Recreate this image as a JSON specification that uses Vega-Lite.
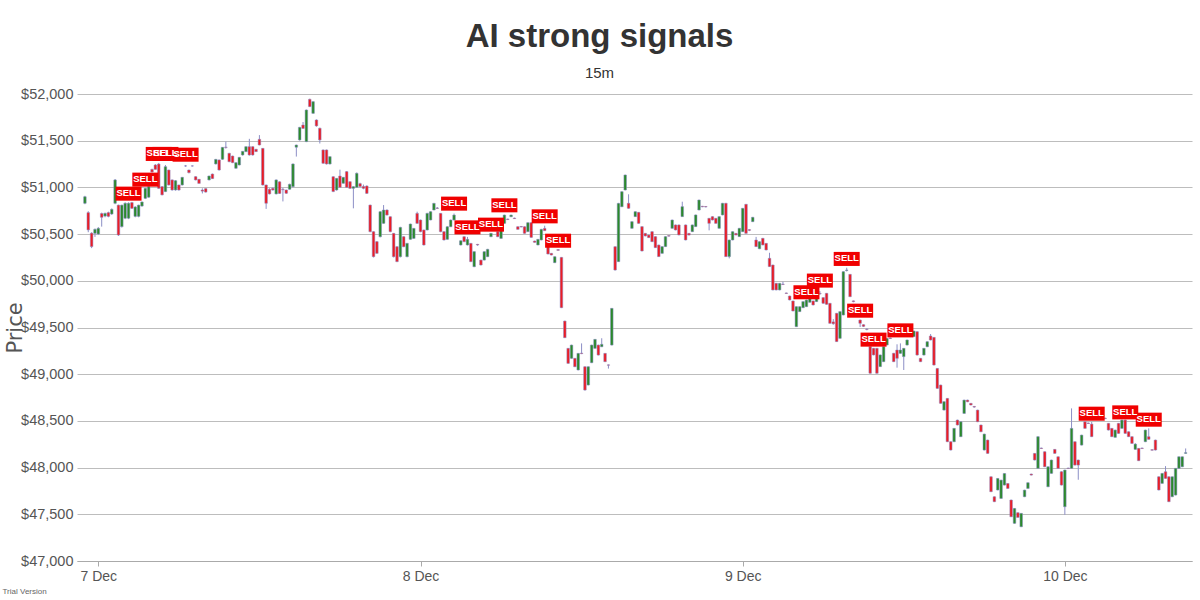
{
  "$schema": "https://vega.github.io/schema/vega-lite/v6.json",
  "width": 1115,
  "height": 467,
  "autosize": "none",
  "padding": {"left": 77, "top": 94, "right": 8, "bottom": 39},
  "background": "white",
  "config": {"view": {"stroke": null}},
  "title": {
    "text": "AI strong signals",
    "subtitle": "15m",
    "font": "Liberation Sans, sans-serif",
    "subtitleFont": "Liberation Sans, sans-serif",
    "fontSize": 33,
    "fontWeight": "bold",
    "color": "#333333",
    "subtitleFontSize": 15,
    "subtitleColor": "#333333",
    "subtitlePadding": 12,
    "offset": 5,
    "anchor": "middle",
    "dx": -35
  },
  "datasets": {
    "candles": [
      {"t":"2021-12-06T23:00Z","o":50830,"h":50910,"l":50820,"c":50900},
      {"t":"2021-12-06T23:15Z","o":50730,"h":50745,"l":50520,"c":50545},
      {"t":"2021-12-06T23:30Z","o":50510,"h":50520,"l":50350,"c":50366},
      {"t":"2021-12-06T23:45Z","o":50508,"h":50560,"l":50470,"c":50551},
      {"t":"2021-12-07T00:00Z","o":50501,"h":50575,"l":50490,"c":50562},
      {"t":"2021-12-07T00:15Z","o":50720,"h":50730,"l":50580,"c":50680},
      {"t":"2021-12-07T00:30Z","o":50693,"h":50730,"l":50680,"c":50722},
      {"t":"2021-12-07T00:45Z","o":50730,"h":50740,"l":50680,"c":50690},
      {"t":"2021-12-07T01:00Z","o":50715,"h":50775,"l":50705,"c":50765},
      {"t":"2021-12-07T01:15Z","o":50830,"h":51090,"l":50820,"c":51080},
      {"t":"2021-12-07T01:30Z","o":50810,"h":50815,"l":50480,"c":50490},
      {"t":"2021-12-07T01:45Z","o":50580,"h":50815,"l":50570,"c":50810},
      {"t":"2021-12-07T02:00Z","o":50670,"h":50840,"l":50660,"c":50830},
      {"t":"2021-12-07T02:15Z","o":50670,"h":50840,"l":50660,"c":50830},
      {"t":"2021-12-07T02:30Z","o":50837,"h":50845,"l":50770,"c":50776},
      {"t":"2021-12-07T02:45Z","o":50690,"h":50800,"l":50680,"c":50790},
      {"t":"2021-12-07T03:00Z","o":50690,"h":50815,"l":50680,"c":50810},
      {"t":"2021-12-07T03:15Z","o":50800,"h":50850,"l":50795,"c":50844},
      {"t":"2021-12-07T03:30Z","o":50883,"h":50995,"l":50875,"c":50990},
      {"t":"2021-12-07T03:45Z","o":50895,"h":51015,"l":50890,"c":51008},
      {"t":"2021-12-07T04:00Z","o":51193,"h":51200,"l":51160,"c":51165},
      {"t":"2021-12-07T04:15Z","o":51240,"h":51250,"l":51190,"c":51193},
      {"t":"2021-12-07T04:30Z","o":51250,"h":51262,"l":50985,"c":50990},
      {"t":"2021-12-07T04:45Z","o":51008,"h":51015,"l":50915,"c":50920},
      {"t":"2021-12-07T05:00Z","o":50955,"h":51240,"l":50950,"c":51222},
      {"t":"2021-12-07T05:15Z","o":51186,"h":51190,"l":51020,"c":51026},
      {"t":"2021-12-07T05:30Z","o":51080,"h":51085,"l":50965,"c":50972},
      {"t":"2021-12-07T05:45Z","o":50972,"h":51078,"l":50965,"c":51072},
      {"t":"2021-12-07T06:00Z","o":51026,"h":51030,"l":50965,"c":50972},
      {"t":"2021-12-07T06:15Z","o":51026,"h":51112,"l":51020,"c":51108},
      {"t":"2021-12-07T06:30Z","o":51230,"h":51240,"l":51220,"c":51229},
      {"t":"2021-12-07T06:45Z","o":51186,"h":51190,"l":51150,"c":51158},
      {"t":"2021-12-07T07:00Z","o":51230,"h":51236,"l":51222,"c":51229},
      {"t":"2021-12-07T07:15Z","o":51115,"h":51120,"l":51075,"c":51080},
      {"t":"2021-12-07T07:30Z","o":51087,"h":51090,"l":51040,"c":51043},
      {"t":"2021-12-07T07:45Z","o":50972,"h":50990,"l":50935,"c":50960},
      {"t":"2021-12-07T08:00Z","o":50987,"h":50990,"l":50945,"c":50950},
      {"t":"2021-12-07T08:15Z","o":51080,"h":51126,"l":51075,"c":51122},
      {"t":"2021-12-07T08:30Z","o":51143,"h":51148,"l":51090,"c":51094},
      {"t":"2021-12-07T08:45Z","o":51251,"h":51305,"l":51245,"c":51300},
      {"t":"2021-12-07T09:00Z","o":51294,"h":51298,"l":51180,"c":51186},
      {"t":"2021-12-07T09:15Z","o":51301,"h":51432,"l":51295,"c":51429},
      {"t":"2021-12-07T09:30Z","o":51432,"h":51490,"l":51415,"c":51428},
      {"t":"2021-12-07T09:45Z","o":51365,"h":51370,"l":51270,"c":51275},
      {"t":"2021-12-07T10:00Z","o":51336,"h":51340,"l":51260,"c":51265},
      {"t":"2021-12-07T10:15Z","o":51205,"h":51268,"l":51200,"c":51265},
      {"t":"2021-12-07T10:30Z","o":51240,"h":51326,"l":51235,"c":51322},
      {"t":"2021-12-07T10:45Z","o":51347,"h":51390,"l":51340,"c":51386},
      {"t":"2021-12-07T11:00Z","o":51383,"h":51440,"l":51378,"c":51436},
      {"t":"2021-12-07T11:15Z","o":51436,"h":51520,"l":51340,"c":51347},
      {"t":"2021-12-07T11:30Z","o":51436,"h":51440,"l":51340,"c":51347},
      {"t":"2021-12-07T11:45Z","o":51408,"h":51412,"l":51380,"c":51383},
      {"t":"2021-12-07T12:00Z","o":51515,"h":51560,"l":51450,"c":51454},
      {"t":"2021-12-07T12:15Z","o":51418,"h":51422,"l":51020,"c":51026},
      {"t":"2021-12-07T12:30Z","o":51026,"h":51030,"l":50770,"c":50830},
      {"t":"2021-12-07T12:45Z","o":50980,"h":50990,"l":50925,"c":50930},
      {"t":"2021-12-07T13:00Z","o":50990,"h":51000,"l":50965,"c":50972},
      {"t":"2021-12-07T13:15Z","o":50930,"h":51085,"l":50925,"c":51080},
      {"t":"2021-12-07T13:30Z","o":51060,"h":51065,"l":50930,"c":50935},
      {"t":"2021-12-07T13:45Z","o":50980,"h":50995,"l":50850,"c":50975},
      {"t":"2021-12-07T14:00Z","o":50972,"h":50976,"l":50930,"c":50937},
      {"t":"2021-12-07T14:15Z","o":50980,"h":51040,"l":50975,"c":51033},
      {"t":"2021-12-07T14:30Z","o":51008,"h":51256,"l":51000,"c":51251},
      {"t":"2021-12-07T14:45Z","o":51430,"h":51458,"l":51330,"c":51454},
      {"t":"2021-12-07T15:00Z","o":51508,"h":51648,"l":51500,"c":51643},
      {"t":"2021-12-07T15:15Z","o":51668,"h":51700,"l":51625,"c":51632},
      {"t":"2021-12-07T15:30Z","o":51490,"h":51834,"l":51485,"c":51829},
      {"t":"2021-12-07T15:45Z","o":51943,"h":51950,"l":51860,"c":51865},
      {"t":"2021-12-07T16:00Z","o":51793,"h":51922,"l":51788,"c":51918},
      {"t":"2021-12-07T16:15Z","o":51722,"h":51728,"l":51650,"c":51658},
      {"t":"2021-12-07T16:30Z","o":51633,"h":51640,"l":51470,"c":51508},
      {"t":"2021-12-07T16:45Z","o":51401,"h":51405,"l":51255,"c":51258},
      {"t":"2021-12-07T17:00Z","o":51401,"h":51405,"l":51245,"c":51251},
      {"t":"2021-12-07T17:15Z","o":51251,"h":51333,"l":51245,"c":51329},
      {"t":"2021-12-07T17:30Z","o":51115,"h":51120,"l":50950,"c":50955},
      {"t":"2021-12-07T17:45Z","o":50972,"h":51100,"l":50965,"c":51097},
      {"t":"2021-12-07T18:00Z","o":51122,"h":51190,"l":50995,"c":51001},
      {"t":"2021-12-07T18:15Z","o":51044,"h":51112,"l":51040,"c":51108},
      {"t":"2021-12-07T18:30Z","o":51169,"h":51175,"l":50995,"c":51001},
      {"t":"2021-12-07T18:45Z","o":51061,"h":51065,"l":50985,"c":50990},
      {"t":"2021-12-07T19:00Z","o":50990,"h":51012,"l":50776,"c":51008},
      {"t":"2021-12-07T19:15Z","o":51001,"h":51160,"l":50995,"c":51151},
      {"t":"2021-12-07T19:30Z","o":51040,"h":51050,"l":51000,"c":51010},
      {"t":"2021-12-07T19:45Z","o":51010,"h":51030,"l":50980,"c":50990},
      {"t":"2021-12-07T20:00Z","o":51015,"h":51022,"l":50930,"c":50936},
      {"t":"2021-12-07T20:15Z","o":50811,"h":50815,"l":50520,"c":50526},
      {"t":"2021-12-07T20:30Z","o":50526,"h":50530,"l":50250,"c":50258},
      {"t":"2021-12-07T20:45Z","o":50419,"h":50425,"l":50290,"c":50294},
      {"t":"2021-12-07T21:00Z","o":50472,"h":50745,"l":50465,"c":50740},
      {"t":"2021-12-07T21:15Z","o":50615,"h":50811,"l":50610,"c":50758},
      {"t":"2021-12-07T21:30Z","o":50758,"h":50765,"l":50700,"c":50704},
      {"t":"2021-12-07T21:45Z","o":50686,"h":50690,"l":50520,"c":50526},
      {"t":"2021-12-07T22:00Z","o":50508,"h":50512,"l":50250,"c":50258},
      {"t":"2021-12-07T22:15Z","o":50365,"h":50370,"l":50200,"c":50205},
      {"t":"2021-12-07T22:30Z","o":50258,"h":50578,"l":50250,"c":50572},
      {"t":"2021-12-07T22:45Z","o":50472,"h":50478,"l":50360,"c":50365},
      {"t":"2021-12-07T23:00Z","o":50258,"h":50406,"l":50252,"c":50401},
      {"t":"2021-12-07T23:15Z","o":50444,"h":50612,"l":50440,"c":50608},
      {"t":"2021-12-07T23:30Z","o":50454,"h":50566,"l":50450,"c":50561},
      {"t":"2021-12-07T23:45Z","o":50722,"h":50740,"l":50610,"c":50615},
      {"t":"2021-12-08T00:00Z","o":50651,"h":50655,"l":50520,"c":50526},
      {"t":"2021-12-08T00:15Z","o":50544,"h":50548,"l":50378,"c":50383},
      {"t":"2021-12-08T00:30Z","o":50544,"h":50728,"l":50540,"c":50722},
      {"t":"2021-12-08T00:45Z","o":50651,"h":50745,"l":50648,"c":50740},
      {"t":"2021-12-08T01:00Z","o":50758,"h":50834,"l":50755,"c":50829},
      {"t":"2021-12-08T01:15Z","o":50780,"h":50790,"l":50770,"c":50775},
      {"t":"2021-12-08T01:30Z","o":50722,"h":50726,"l":50520,"c":50526},
      {"t":"2021-12-08T01:45Z","o":50526,"h":50530,"l":50432,"c":50437},
      {"t":"2021-12-08T02:00Z","o":50444,"h":50584,"l":50440,"c":50579},
      {"t":"2021-12-08T02:15Z","o":50579,"h":50656,"l":50575,"c":50651},
      {"t":"2021-12-08T02:30Z","o":50651,"h":50720,"l":50646,"c":50704},
      {"t":"2021-12-08T03:00Z","o":50383,"h":50434,"l":50378,"c":50429},
      {"t":"2021-12-08T03:15Z","o":50472,"h":50476,"l":50414,"c":50419},
      {"t":"2021-12-08T03:30Z","o":50383,"h":50470,"l":50378,"c":50444},
      {"t":"2021-12-08T03:45Z","o":50401,"h":50405,"l":50200,"c":50205},
      {"t":"2021-12-08T04:00Z","o":50151,"h":50317,"l":50146,"c":50312},
      {"t":"2021-12-08T04:15Z","o":50390,"h":50395,"l":50375,"c":50383},
      {"t":"2021-12-08T04:30Z","o":50222,"h":50226,"l":50164,"c":50169},
      {"t":"2021-12-08T04:45Z","o":50222,"h":50316,"l":50218,"c":50312},
      {"t":"2021-12-08T05:00Z","o":50258,"h":50342,"l":50254,"c":50337},
      {"t":"2021-12-08T05:15Z","o":50472,"h":50512,"l":50468,"c":50508},
      {"t":"2021-12-08T05:45Z","o":50526,"h":50530,"l":50468,"c":50472},
      {"t":"2021-12-08T06:00Z","o":50454,"h":50566,"l":50450,"c":50561},
      {"t":"2021-12-08T06:15Z","o":50615,"h":50708,"l":50610,"c":50704},
      {"t":"2021-12-08T06:30Z","o":50662,"h":50666,"l":50650,"c":50656},
      {"t":"2021-12-08T06:45Z","o":50686,"h":50708,"l":50682,"c":50704},
      {"t":"2021-12-08T07:00Z","o":50672,"h":50676,"l":50662,"c":50666},
      {"t":"2021-12-08T07:15Z","o":50579,"h":50583,"l":50548,"c":50551},
      {"t":"2021-12-08T07:30Z","o":50582,"h":50586,"l":50572,"c":50576},
      {"t":"2021-12-08T07:45Z","o":50579,"h":50583,"l":50504,"c":50508},
      {"t":"2021-12-08T08:00Z","o":50526,"h":50626,"l":50522,"c":50622},
      {"t":"2021-12-08T08:15Z","o":50622,"h":50626,"l":50460,"c":50465},
      {"t":"2021-12-08T08:30Z","o":50426,"h":50430,"l":50408,"c":50412},
      {"t":"2021-12-08T08:45Z","o":50383,"h":50448,"l":50380,"c":50444},
      {"t":"2021-12-08T09:00Z","o":50437,"h":50556,"l":50433,"c":50551},
      {"t":"2021-12-08T09:15Z","o":50561,"h":50590,"l":50533,"c":50537},
      {"t":"2021-12-08T09:30Z","o":50401,"h":50405,"l":50283,"c":50287},
      {"t":"2021-12-08T09:45Z","o":50294,"h":50298,"l":50272,"c":50276},
      {"t":"2021-12-08T10:00Z","o":50194,"h":50262,"l":50190,"c":50258},
      {"t":"2021-12-08T10:15Z","o":50334,"h":50340,"l":50322,"c":50326},
      {"t":"2021-12-08T10:30Z","o":50251,"h":50255,"l":49708,"c":49712},
      {"t":"2021-12-08T10:45Z","o":49569,"h":49573,"l":49387,"c":49391},
      {"t":"2021-12-08T11:00Z","o":49277,"h":49281,"l":49112,"c":49116},
      {"t":"2021-12-08T11:15Z","o":49170,"h":49316,"l":49166,"c":49312},
      {"t":"2021-12-08T11:30Z","o":49170,"h":49174,"l":49076,"c":49080},
      {"t":"2021-12-08T11:45Z","o":49045,"h":49227,"l":49041,"c":49223},
      {"t":"2021-12-08T12:00Z","o":49226,"h":49330,"l":49215,"c":49220},
      {"t":"2021-12-08T12:15Z","o":49080,"h":49084,"l":48826,"c":48830},
      {"t":"2021-12-08T12:30Z","o":48884,"h":49084,"l":48880,"c":49080},
      {"t":"2021-12-08T12:45Z","o":49123,"h":49316,"l":49119,"c":49312},
      {"t":"2021-12-08T13:00Z","o":49277,"h":49377,"l":49273,"c":49373},
      {"t":"2021-12-08T13:15Z","o":49312,"h":49316,"l":49201,"c":49205},
      {"t":"2021-12-08T13:30Z","o":49294,"h":49385,"l":49290,"c":49320},
      {"t":"2021-12-08T13:45Z","o":49223,"h":49227,"l":49130,"c":49134},
      {"t":"2021-12-08T14:00Z","o":49100,"h":49104,"l":49060,"c":49096},
      {"t":"2021-12-08T14:15Z","o":49312,"h":49709,"l":49308,"c":49705},
      {"t":"2021-12-08T14:30Z","o":50365,"h":50369,"l":50111,"c":50115},
      {"t":"2021-12-08T14:45Z","o":50205,"h":50834,"l":50201,"c":50829},
      {"t":"2021-12-08T15:00Z","o":50793,"h":50958,"l":50789,"c":50954},
      {"t":"2021-12-08T15:15Z","o":50972,"h":51137,"l":50968,"c":51133},
      {"t":"2021-12-08T15:30Z","o":50830,"h":50926,"l":50772,"c":50776},
      {"t":"2021-12-08T15:45Z","o":50562,"h":50637,"l":50558,"c":50633},
      {"t":"2021-12-08T16:00Z","o":50687,"h":50744,"l":50683,"c":50740},
      {"t":"2021-12-08T16:15Z","o":50733,"h":50737,"l":50611,"c":50615},
      {"t":"2021-12-08T16:30Z","o":50580,"h":50584,"l":50315,"c":50319},
      {"t":"2021-12-08T16:45Z","o":50508,"h":50512,"l":50476,"c":50480},
      {"t":"2021-12-08T17:00Z","o":50490,"h":50494,"l":50458,"c":50462},
      {"t":"2021-12-08T17:15Z","o":50526,"h":50530,"l":50415,"c":50419},
      {"t":"2021-12-08T17:30Z","o":50473,"h":50477,"l":50351,"c":50355},
      {"t":"2021-12-08T17:45Z","o":50383,"h":50387,"l":50255,"c":50259},
      {"t":"2021-12-08T18:00Z","o":50294,"h":50370,"l":50290,"c":50366},
      {"t":"2021-12-08T18:15Z","o":50366,"h":50477,"l":50362,"c":50473},
      {"t":"2021-12-08T18:30Z","o":50484,"h":50488,"l":50474,"c":50478},
      {"t":"2021-12-08T18:45Z","o":50562,"h":50655,"l":50558,"c":50651},
      {"t":"2021-12-08T19:00Z","o":50598,"h":50602,"l":50540,"c":50544},
      {"t":"2021-12-08T19:15Z","o":50598,"h":50602,"l":50487,"c":50491},
      {"t":"2021-12-08T19:30Z","o":50687,"h":50847,"l":50683,"c":50794},
      {"t":"2021-12-08T19:45Z","o":50598,"h":50602,"l":50433,"c":50437},
      {"t":"2021-12-08T20:00Z","o":50508,"h":50512,"l":50486,"c":50490},
      {"t":"2021-12-08T20:15Z","o":50526,"h":50602,"l":50522,"c":50598},
      {"t":"2021-12-08T20:30Z","o":50580,"h":50709,"l":50576,"c":50705},
      {"t":"2021-12-08T20:45Z","o":50758,"h":50869,"l":50754,"c":50865},
      {"t":"2021-12-08T21:00Z","o":50798,"h":50802,"l":50788,"c":50792},
      {"t":"2021-12-08T21:15Z","o":50796,"h":50800,"l":50786,"c":50790},
      {"t":"2021-12-08T21:30Z","o":50669,"h":50673,"l":50540,"c":50615},
      {"t":"2021-12-08T21:45Z","o":50687,"h":50691,"l":50647,"c":50651},
      {"t":"2021-12-08T22:00Z","o":50669,"h":50673,"l":50611,"c":50615},
      {"t":"2021-12-08T22:15Z","o":50562,"h":50691,"l":50558,"c":50687},
      {"t":"2021-12-08T22:30Z","o":50705,"h":50834,"l":50701,"c":50830},
      {"t":"2021-12-08T22:45Z","o":50830,"h":50834,"l":50255,"c":50259},
      {"t":"2021-12-08T23:00Z","o":50259,"h":50441,"l":50240,"c":50437},
      {"t":"2021-12-08T23:15Z","o":50437,"h":50530,"l":50433,"c":50526},
      {"t":"2021-12-08T23:30Z","o":50508,"h":50512,"l":50487,"c":50491},
      {"t":"2021-12-08T23:45Z","o":50473,"h":50566,"l":50469,"c":50562},
      {"t":"2021-12-09T00:00Z","o":50526,"h":50780,"l":50522,"c":50776},
      {"t":"2021-12-09T00:15Z","o":50819,"h":50823,"l":50504,"c":50508},
      {"t":"2021-12-09T00:30Z","o":50548,"h":50552,"l":50532,"c":50540},
      {"t":"2021-12-09T00:45Z","o":50633,"h":50684,"l":50629,"c":50680},
      {"t":"2021-12-09T01:00Z","o":50437,"h":50470,"l":50362,"c":50366},
      {"t":"2021-12-09T01:15Z","o":50343,"h":50423,"l":50339,"c":50419},
      {"t":"2021-12-09T01:30Z","o":50455,"h":50459,"l":50380,"c":50384},
      {"t":"2021-12-09T01:45Z","o":50401,"h":50405,"l":50326,"c":50330},
      {"t":"2021-12-09T02:00Z","o":50241,"h":50300,"l":50148,"c":50152},
      {"t":"2021-12-09T02:15Z","o":50169,"h":50173,"l":49898,"c":49902},
      {"t":"2021-12-09T02:30Z","o":49973,"h":49977,"l":49898,"c":49902},
      {"t":"2021-12-09T02:45Z","o":49902,"h":49977,"l":49898,"c":49973},
      {"t":"2021-12-09T03:00Z","o":49965,"h":49990,"l":49955,"c":49960},
      {"t":"2021-12-09T03:15Z","o":49870,"h":49874,"l":49860,"c":49864},
      {"t":"2021-12-09T03:30Z","o":49837,"h":49841,"l":49791,"c":49795},
      {"t":"2021-12-09T03:45Z","o":49784,"h":49788,"l":49673,"c":49677},
      {"t":"2021-12-09T04:00Z","o":49509,"h":49727,"l":49505,"c":49723},
      {"t":"2021-12-09T04:15Z","o":49670,"h":49727,"l":49666,"c":49723},
      {"t":"2021-12-09T04:30Z","o":49712,"h":49781,"l":49708,"c":49777},
      {"t":"2021-12-09T04:45Z","o":49723,"h":49798,"l":49719,"c":49794},
      {"t":"2021-12-09T05:00Z","o":49770,"h":49824,"l":49766,"c":49820},
      {"t":"2021-12-09T05:15Z","o":49784,"h":49788,"l":49737,"c":49741},
      {"t":"2021-12-09T05:30Z","o":49777,"h":49870,"l":49773,"c":49866},
      {"t":"2021-12-09T05:45Z","o":49866,"h":49890,"l":49850,"c":49860},
      {"t":"2021-12-09T06:00Z","o":49820,"h":49824,"l":49755,"c":49759},
      {"t":"2021-12-09T06:15Z","o":49866,"h":49870,"l":49744,"c":49748},
      {"t":"2021-12-09T06:30Z","o":49759,"h":49763,"l":49541,"c":49545},
      {"t":"2021-12-09T06:45Z","o":49560,"h":49590,"l":49530,"c":49540},
      {"t":"2021-12-09T07:00Z","o":49652,"h":49656,"l":49345,"c":49349},
      {"t":"2021-12-09T07:15Z","o":49384,"h":49674,"l":49380,"c":49670},
      {"t":"2021-12-09T07:30Z","o":49634,"h":50102,"l":49630,"c":50098},
      {"t":"2021-12-09T07:45Z","o":50110,"h":50140,"l":50100,"c":50116},
      {"t":"2021-12-09T08:00Z","o":50069,"h":50073,"l":49826,"c":49830},
      {"t":"2021-12-09T08:15Z","o":49785,"h":49789,"l":49770,"c":49777},
      {"t":"2021-12-09T08:30Z","o":49700,"h":49710,"l":49660,"c":49670},
      {"t":"2021-12-09T08:45Z","o":49580,"h":49584,"l":49505,"c":49545},
      {"t":"2021-12-09T09:00Z","o":49530,"h":49534,"l":49505,"c":49512},
      {"t":"2021-12-09T09:15Z","o":49484,"h":49490,"l":49470,"c":49480},
      {"t":"2021-12-09T09:30Z","o":49295,"h":49299,"l":49006,"c":49010},
      {"t":"2021-12-09T09:45Z","o":49277,"h":49281,"l":49202,"c":49206},
      {"t":"2021-12-09T10:00Z","o":49277,"h":49281,"l":49006,"c":49010},
      {"t":"2021-12-09T10:15Z","o":49081,"h":49210,"l":49077,"c":49206},
      {"t":"2021-12-09T10:30Z","o":49134,"h":49299,"l":49130,"c":49295},
      {"t":"2021-12-09T10:45Z","o":49313,"h":49388,"l":49309,"c":49384},
      {"t":"2021-12-09T11:00Z","o":49388,"h":49392,"l":49378,"c":49382},
      {"t":"2021-12-09T11:15Z","o":49224,"h":49228,"l":49130,"c":49134},
      {"t":"2021-12-09T11:30Z","o":49259,"h":49320,"l":49070,"c":49170},
      {"t":"2021-12-09T11:45Z","o":49223,"h":49330,"l":49219,"c":49259},
      {"t":"2021-12-09T12:00Z","o":49188,"h":49281,"l":49045,"c":49277},
      {"t":"2021-12-09T12:15Z","o":49312,"h":49370,"l":49308,"c":49366},
      {"t":"2021-12-09T12:30Z","o":49455,"h":49470,"l":49416,"c":49420},
      {"t":"2021-12-09T12:45Z","o":49402,"h":49466,"l":49398,"c":49462},
      {"t":"2021-12-09T13:00Z","o":49455,"h":49459,"l":49201,"c":49205},
      {"t":"2021-12-09T13:15Z","o":49170,"h":49174,"l":49130,"c":49134},
      {"t":"2021-12-09T13:30Z","o":49205,"h":49281,"l":49201,"c":49277},
      {"t":"2021-12-09T13:45Z","o":49294,"h":49352,"l":49290,"c":49348},
      {"t":"2021-12-09T14:00Z","o":49409,"h":49430,"l":49362,"c":49366},
      {"t":"2021-12-09T14:15Z","o":49394,"h":49398,"l":49094,"c":49098},
      {"t":"2021-12-09T14:30Z","o":49062,"h":49066,"l":48844,"c":48848},
      {"t":"2021-12-09T14:45Z","o":48884,"h":48888,"l":48684,"c":48688},
      {"t":"2021-12-09T15:00Z","o":48616,"h":48710,"l":48612,"c":48706},
      {"t":"2021-12-09T15:15Z","o":48741,"h":48745,"l":48273,"c":48277},
      {"t":"2021-12-09T15:30Z","o":48277,"h":48281,"l":48184,"c":48188},
      {"t":"2021-12-09T15:45Z","o":48277,"h":48424,"l":48273,"c":48420},
      {"t":"2021-12-09T16:00Z","o":48509,"h":48513,"l":48452,"c":48456},
      {"t":"2021-12-09T16:15Z","o":48331,"h":48495,"l":48327,"c":48491},
      {"t":"2021-12-09T16:30Z","o":48580,"h":48727,"l":48576,"c":48723},
      {"t":"2021-12-09T16:45Z","o":48723,"h":48727,"l":48701,"c":48705},
      {"t":"2021-12-09T17:00Z","o":48688,"h":48692,"l":48666,"c":48670},
      {"t":"2021-12-09T17:15Z","o":48655,"h":48660,"l":48640,"c":48648},
      {"t":"2021-12-09T17:30Z","o":48616,"h":48620,"l":48487,"c":48491},
      {"t":"2021-12-09T17:45Z","o":48456,"h":48460,"l":48380,"c":48384},
      {"t":"2021-12-09T18:00Z","o":48188,"h":48363,"l":48184,"c":48359},
      {"t":"2021-12-09T18:15Z","o":48295,"h":48299,"l":48148,"c":48152},
      {"t":"2021-12-09T18:30Z","o":47902,"h":47906,"l":47738,"c":47742},
      {"t":"2021-12-09T18:45Z","o":47688,"h":47692,"l":47631,"c":47635},
      {"t":"2021-12-09T19:00Z","o":47760,"h":47888,"l":47756,"c":47884},
      {"t":"2021-12-09T19:15Z","o":47670,"h":47870,"l":47666,"c":47866},
      {"t":"2021-12-09T19:30Z","o":47813,"h":47941,"l":47809,"c":47937},
      {"t":"2021-12-09T19:45Z","o":47830,"h":47834,"l":47773,"c":47777},
      {"t":"2021-12-09T20:00Z","o":47653,"h":47657,"l":47470,"c":47474},
      {"t":"2021-12-09T20:15Z","o":47403,"h":47567,"l":47399,"c":47563},
      {"t":"2021-12-09T20:30Z","o":47517,"h":47521,"l":47463,"c":47467},
      {"t":"2021-12-09T20:45Z","o":47367,"h":47514,"l":47363,"c":47510},
      {"t":"2021-12-09T21:00Z","o":47688,"h":47763,"l":47684,"c":47759},
      {"t":"2021-12-09T21:15Z","o":47777,"h":47842,"l":47773,"c":47838},
      {"t":"2021-12-09T21:30Z","o":47931,"h":47935,"l":47916,"c":47920},
      {"t":"2021-12-09T21:45Z","o":48152,"h":48156,"l":48077,"c":48081},
      {"t":"2021-12-09T22:00Z","o":47992,"h":48335,"l":47988,"c":48331},
      {"t":"2021-12-09T22:15Z","o":48210,"h":48214,"l":48200,"c":48204},
      {"t":"2021-12-09T22:30Z","o":48170,"h":48174,"l":48005,"c":48009},
      {"t":"2021-12-09T22:45Z","o":47795,"h":48013,"l":47791,"c":48009},
      {"t":"2021-12-09T23:00Z","o":47938,"h":48085,"l":47934,"c":48081},
      {"t":"2021-12-09T23:15Z","o":48195,"h":48199,"l":48148,"c":48152},
      {"t":"2021-12-09T23:30Z","o":48116,"h":48120,"l":47988,"c":47992},
      {"t":"2021-12-09T23:45Z","o":47956,"h":47960,"l":47809,"c":47813},
      {"t":"2021-12-10T00:00Z","o":47581,"h":47978,"l":47495,"c":47974},
      {"t":"2021-12-10T00:15Z","o":47995,"h":47999,"l":47985,"c":47990},
      {"t":"2021-12-10T00:30Z","o":47992,"h":48634,"l":47988,"c":48420},
      {"t":"2021-12-10T00:45Z","o":48277,"h":48281,"l":48023,"c":48027},
      {"t":"2021-12-10T01:00Z","o":48081,"h":48085,"l":47870,"c":48027},
      {"t":"2021-12-10T01:15Z","o":48241,"h":48352,"l":48237,"c":48348},
      {"t":"2021-12-10T01:30Z","o":48491,"h":48495,"l":48416,"c":48420},
      {"t":"2021-12-10T01:45Z","o":48478,"h":48482,"l":48468,"c":48472},
      {"t":"2021-12-10T02:00Z","o":48466,"h":48490,"l":48327,"c":48331},
      {"t":"2021-12-10T03:00Z","o":48530,"h":48534,"l":48520,"c":48524},
      {"t":"2021-12-10T03:15Z","o":48474,"h":48478,"l":48398,"c":48402},
      {"t":"2021-12-10T03:30Z","o":48420,"h":48424,"l":48327,"c":48331},
      {"t":"2021-12-10T03:45Z","o":48324,"h":48406,"l":48320,"c":48402},
      {"t":"2021-12-10T04:00Z","o":48474,"h":48478,"l":48362,"c":48366},
      {"t":"2021-12-10T04:15Z","o":48420,"h":48513,"l":48416,"c":48509},
      {"t":"2021-12-10T04:30Z","o":48509,"h":48513,"l":48362,"c":48366},
      {"t":"2021-12-10T04:45Z","o":48384,"h":48388,"l":48327,"c":48331},
      {"t":"2021-12-10T05:00Z","o":48331,"h":48335,"l":48255,"c":48259},
      {"t":"2021-12-10T05:15Z","o":48195,"h":48262,"l":48191,"c":48252},
      {"t":"2021-12-10T05:30Z","o":48206,"h":48210,"l":48070,"c":48074},
      {"t":"2021-12-10T05:45Z","o":48210,"h":48214,"l":48200,"c":48204},
      {"t":"2021-12-10T06:00Z","o":48277,"h":48406,"l":48273,"c":48402},
      {"t":"2021-12-10T06:15Z","o":48331,"h":48420,"l":48299,"c":48303},
      {"t":"2021-12-10T06:30Z","o":48192,"h":48196,"l":48182,"c":48186},
      {"t":"2021-12-10T06:45Z","o":48295,"h":48299,"l":48184,"c":48188},
      {"t":"2021-12-10T07:00Z","o":47902,"h":47906,"l":47756,"c":47760},
      {"t":"2021-12-10T07:15Z","o":47831,"h":47942,"l":47827,"c":47938},
      {"t":"2021-12-10T07:30Z","o":47956,"h":48016,"l":47880,"c":47884},
      {"t":"2021-12-10T07:45Z","o":47902,"h":47906,"l":47631,"c":47635},
      {"t":"2021-12-10T08:00Z","o":47688,"h":47906,"l":47684,"c":47902},
      {"t":"2021-12-10T08:15Z","o":47706,"h":47996,"l":47702,"c":47992},
      {"t":"2021-12-10T08:30Z","o":47992,"h":48120,"l":47988,"c":48116},
      {"t":"2021-12-10T08:45Z","o":48009,"h":48120,"l":48005,"c":48116},
      {"t":"2021-12-10T09:00Z","o":48152,"h":48205,"l":48148,"c":48160}
    ],
    "signals": [
      {"t":"2021-12-07T02:15Z","price":50858,"label":"SELL"},
      {"t":"2021-12-07T03:30Z","price":51008,"label":"SELL"},
      {"t":"2021-12-07T04:30Z","price":51283,"label":"SELL"},
      {"t":"2021-12-07T05:00Z","price":51283,"label":"SELL"},
      {"t":"2021-12-07T06:30Z","price":51275,"label":"SELL"},
      {"t":"2021-12-08T02:30Z","price":50751,"label":"SELL"},
      {"t":"2021-12-08T03:30Z","price":50497,"label":"SELL"},
      {"t":"2021-12-08T05:15Z","price":50526,"label":"SELL"},
      {"t":"2021-12-08T06:15Z","price":50733,"label":"SELL"},
      {"t":"2021-12-08T09:15Z","price":50615,"label":"SELL"},
      {"t":"2021-12-08T10:15Z","price":50354,"label":"SELL"},
      {"t":"2021-12-09T04:45Z","price":49802,"label":"SELL"},
      {"t":"2021-12-09T05:45Z","price":49927,"label":"SELL"},
      {"t":"2021-12-09T07:45Z","price":50159,"label":"SELL"},
      {"t":"2021-12-09T08:45Z","price":49605,"label":"SELL"},
      {"t":"2021-12-09T09:45Z","price":49295,"label":"SELL"},
      {"t":"2021-12-09T11:45Z","price":49394,"label":"SELL"},
      {"t":"2021-12-10T02:00Z","price":48502,"label":"SELL"},
      {"t":"2021-12-10T04:30Z","price":48516,"label":"SELL"},
      {"t":"2021-12-10T06:15Z","price":48438,"label":"SELL"}
    ]
  },
  "encoding": {
    "x": {
      "field": "t",
      "type": "temporal",
      "scale": {
        "type": "utc",
        "domain": [
          {"year": 2021, "month": 12, "date": 6, "hours": 22, "minutes": 47, "utc": true},
          {"year": 2021, "month": 12, "date": 10, "hours": 9, "minutes": 6, "utc": true}
        ]
      },
      "axis": {
        "title": "Trial Version",
        "titleFontSize": 8,
        "titleFontWeight": "normal",
        "titleColor": "#666666",
        "titleFont": "Liberation Sans, sans-serif",
        "titleAnchor": "start",
        "titleAlign": "left",
        "titleBaseline": "middle",
        "titleX": -75,
        "titleY": 30,
        "tickCount": {"interval": "day", "step": 1},
        "labelExpr": "utcFormat(datum.value, '%-d %b')",
        "grid": false,
        "domainColor": "#aaaaaa",
        "tickColor": "#aaaaaa",
        "tickSize": 5,
        "labelFontSize": 14,
        "labelColor": "#555555",
        "labelFont": "Liberation Sans, sans-serif",
        "labelPadding": 3
      }
    }
  },
  "layer": [
    {
      "data": {"name": "candles"},
      "mark": {"type": "rule", "color": "#8c8fc6", "strokeWidth": 1},
      "encoding": {
        "y": {
          "field": "l",
          "type": "quantitative",
          "title": "Price",
          "scale": {"domain": [47000, 52000], "nice": false, "zero": false},
          "axis": {
            "values": [47000, 47500, 48000, 48500, 49000, 49500, 50000, 50500, 51000, 51500, 52000],
            "format": "$,.0f",
            "grid": true,
            "gridColor": "#bdbdbd",
            "domain": false,
            "ticks": false,
            "labelPadding": 4,
            "labelFontSize": 14.5,
            "labelColor": "#555555",
            "labelFont": "Liberation Sans, sans-serif",
            "titleFont": "DejaVu Sans, sans-serif",
            "titleFontSize": 21,
            "titleFontWeight": "normal",
            "titleColor": "#555555",
            "titleX": -52
          }
        },
        "y2": {"field": "h"}
      }
    },
    {
      "data": {"name": "candles"},
      "mark": {"type": "bar", "width": 2.6, "stroke": "#8c8fc6", "strokeWidth": 0.5},
      "encoding": {
        "y": {"field": "o", "type": "quantitative", "title": "Price"},
        "y2": {"field": "c"},
        "color": {
          "condition": {"test": "datum.c >= datum.o", "value": "#2a8a2a"},
          "value": "#ec1c24"
        }
      }
    },
    {
      "data": {"name": "signals"},
      "mark": {
        "type": "point",
        "shape": "M-1,-1.08H1V0H-1Z",
        "size": 676,
        "filled": true,
        "fill": "#f00000",
        "opacity": 1,
        "strokeWidth": 0
      },
      "encoding": {
        "y": {"field": "price", "type": "quantitative", "title": "Price"}
      }
    },
    {
      "data": {"name": "signals"},
      "mark": {
        "type": "text",
        "color": "white",
        "fontSize": 9.5,
        "fontWeight": "bold",
        "font": "Liberation Sans, sans-serif",
        "baseline": "bottom",
        "dy": -2.5
      },
      "encoding": {
        "y": {"field": "price", "type": "quantitative", "title": "Price"},
        "text": {"field": "label"}
      }
    }
  ]
}
